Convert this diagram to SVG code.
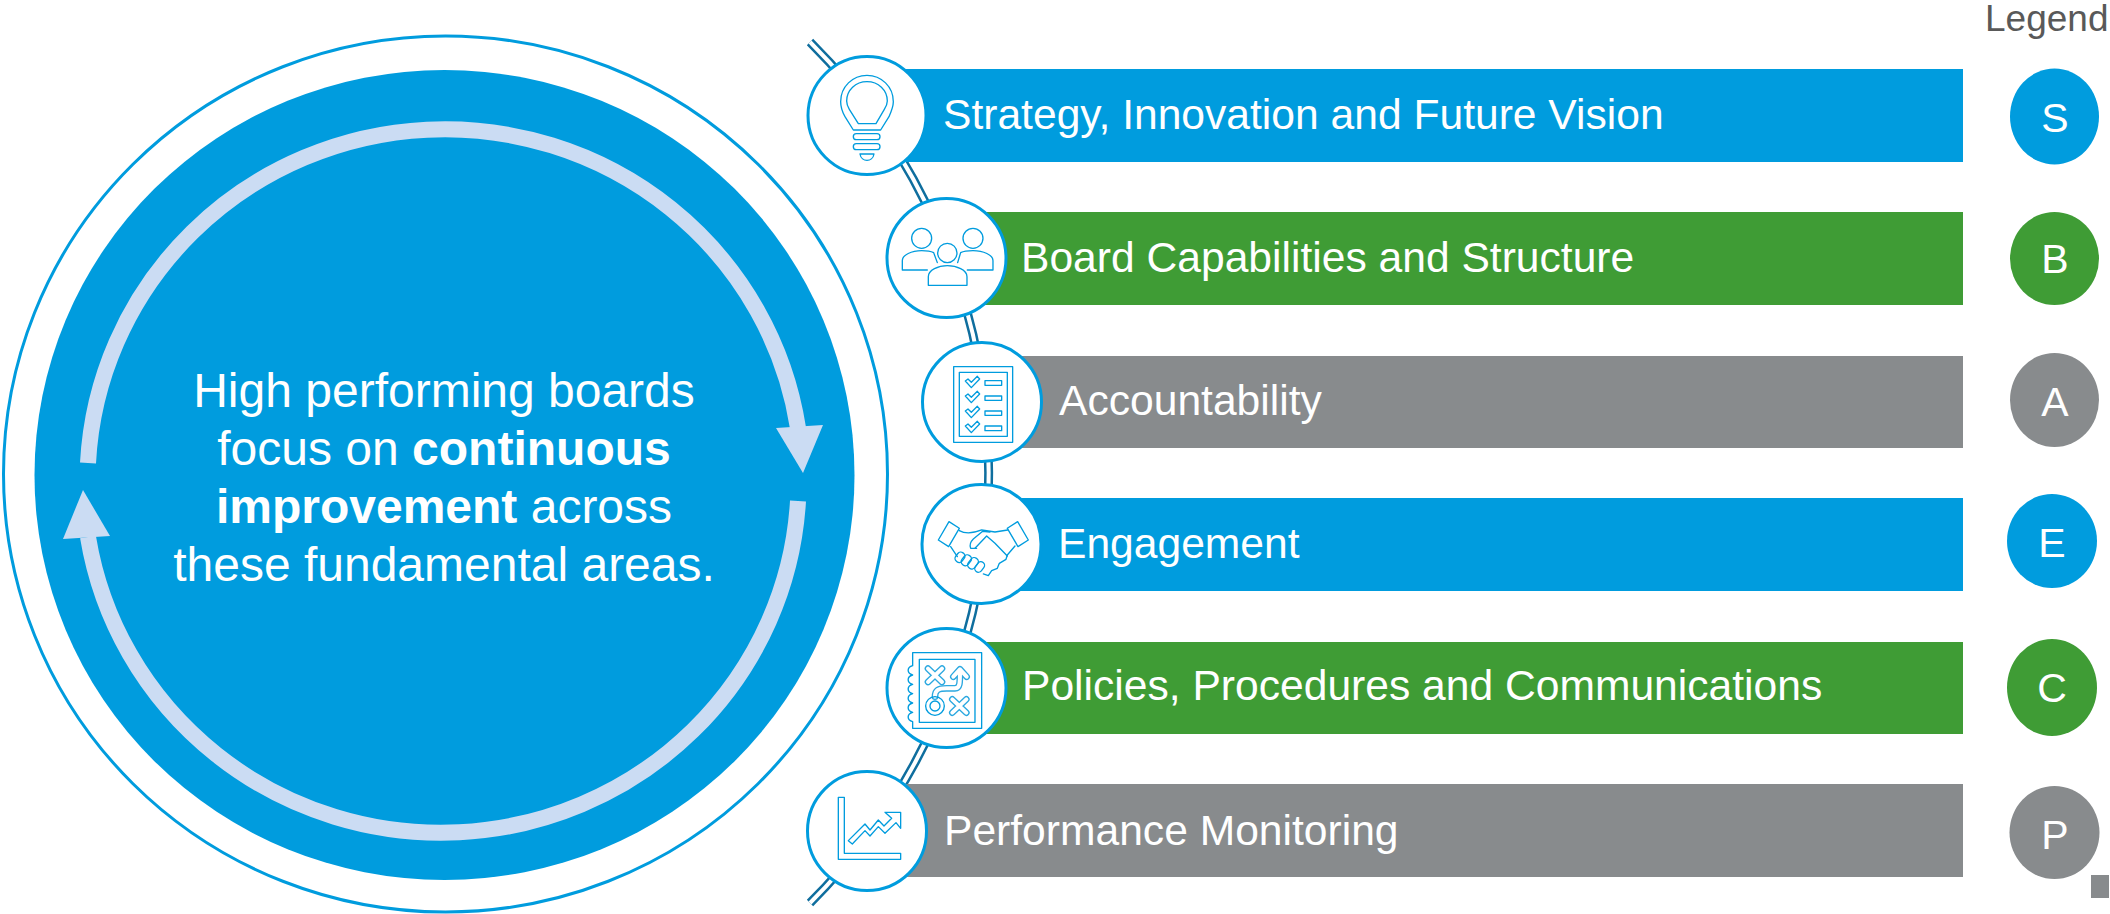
<svg xmlns="http://www.w3.org/2000/svg" width="2110" height="914" viewBox="0 0 2110 914">
<style>
text{font-family:"Liberation Sans",Arial,sans-serif}
.lbl{font-size:42.6px;fill:#fff}
.hero{font-size:48px;fill:#fff;text-anchor:middle}
.lg{font-size:41px;fill:#fff;text-anchor:middle}
.blue{fill:#009cde}.green{fill:#3f9c35}.gray{fill:#888b8d}
.disc{fill:#fff;stroke:#009cde;stroke-width:3}
.ic{fill:none;stroke:#009cde;stroke-width:4;stroke-linejoin:round;stroke-linecap:round}
.ico{fill:none;stroke:#2ba8e0;stroke-width:20;stroke-linejoin:round;stroke-linecap:round}
.ici{fill:none;stroke:#fff;stroke-width:12;stroke-linejoin:round;stroke-linecap:round}
.ring{fill:none;stroke:#cbdcf3;stroke-width:16}
</style>
<defs>
<path id="x1" d="M414 206L456 246M456 206L414 246"/>
<path id="x2" d="M487 298L529 338M529 298L487 338"/>
<path id="route" d="M435 290C435 270 445 265 470 265H495C510 265 510 250 510 212M490 230L510 208L530 230"/>
<path id="chk" d="M256 243L264 237L274 247L292 229L299 237L274 263Z"/>
</defs>
<g id="connectors">
<path d="M810 42A608 608 0 0 1 810 903" fill="none" stroke="#0f6e9e" stroke-width="9"/>
<path d="M810 42A608 608 0 0 1 810 903" fill="none" stroke="#fff" stroke-width="4"/>
</g>
<g id="hub">
<ellipse cx="445.500" cy="474" rx="442" ry="438" fill="#fff" stroke="#009cde" stroke-width="3"/>
<ellipse cx="444.500" cy="475" rx="410" ry="405" class="blue"/>
<path class="ring" d="M88 463A357.300 352 0 0 1 798 428"/>
<path d="M776 428L823 425L803 473Z" fill="#cbdcf3"/>
<path class="ring" d="M798 501A357.600 352 0 0 1 88 537"/>
<path d="M63 539L110 536L83 490Z" fill="#cbdcf3"/>
<text class="hero" x="444" y="407">High performing boards</text>
<text class="hero" x="444" y="465">focus on <tspan font-weight="700">continuous</tspan></text>
<text class="hero" x="444" y="523"><tspan font-weight="700">improvement</tspan> across</text>
<text class="hero" x="444" y="581">these fundamental areas.</text>
</g>
<g id="n-strategy">
<rect class="blue" x="866" y="69" width="1097" height="93"/>
<circle class="disc" cx="867" cy="115.500" r="59"/>
<g class="ic" transform="translate(790 20) scale(.3333)">
<path d="M190 330L165 290C155 272 152 258 152 245C152 200 188 166 231 166C274 166 310 200 310 245C310 258 305 272 297 290L272 330Z"/>
<path d="M205 311L178 268C172 258 170 252 170 243C170 210 197 185 231 185C265 185 292 210 292 243C292 252 288 260 283 268L258 311Z"/>
<rect x="190" y="341" width="80" height="18" rx="9"/>
<rect x="190" y="371" width="80" height="18" rx="9"/>
<path d="M210 402H252C250 415 240 421 231 421C222 421 212 415 210 402Z"/>
</g>
<text class="lbl" x="943" y="129">Strategy, Innovation and Future Vision</text>
</g>
<g id="n-board">
<rect class="green" x="946" y="212" width="1017" height="93"/>
<circle class="disc" cx="946.500" cy="258" r="59.500"/>
<g class="ic" transform="translate(790 20) scale(.3333)">
<circle cx="395" cy="655" r="30"/>
<circle cx="549" cy="655" r="30"/>
<circle cx="472" cy="699" r="29"/>
<path d="M412 750H337V722C337 705 365 692 395 692C412 692 425 695 431 698L442 728"/>
<path d="M532 750H609V722C609 705 580 692 549 692C532 692 518 695 512 698L503 728"/>
<path d="M415 796V770C415 750 445 737 472 737C500 737 531 750 531 770V796Z"/>
</g>
<text class="lbl" x="1021" y="272">Board Capabilities and Structure</text>
</g>
<g id="n-accountability">
<rect class="gray" x="982" y="356" width="981" height="92"/>
<circle class="disc" cx="982" cy="402" r="59.500"/>
<g class="ic" transform="translate(880 300) scale(.3333)">
<rect x="221" y="200" width="177" height="227"/>
<rect x="238" y="217" width="144" height="192"/>
<rect x="315" y="242" width="50" height="14"/>
<rect x="315" y="288" width="50" height="13"/>
<rect x="315" y="333" width="50" height="13"/>
<rect x="315" y="378" width="50" height="14"/>
<use href="#chk"/>
<use href="#chk" y="45"/>
<use href="#chk" y="90"/>
<use href="#chk" y="135"/>
</g>
<text class="lbl" x="1059" y="415">Accountability</text>
</g>
<g id="n-engagement">
<rect class="blue" x="982" y="498" width="981" height="93"/>
<circle class="disc" cx="981.500" cy="544" r="59.500"/>
<g class="ic" transform="translate(880 300) scale(.3333)">
<path d="M175 720L207 665L238 685L206 740Z"/>
<path d="M382 685L413 665L445 720L414 740Z"/>
<path d="M238 692C255 702 280 700 305 690L345 696L383 690"/>
<path d="M212 740L232 770"/>
<path d="M405 738L382 765L378 778L358 790L352 805L335 812L325 827L310 822"/>
<path d="M290 745L272 745C268 735 272 725 280 717L308 694L330 696"/>
<path d="M285 745L320 708L345 730L382 768"/>
<rect x="228" y="756" width="24" height="32" rx="11" transform="rotate(38 240 772)"/>
<rect x="247" y="764" width="24" height="34" rx="11" transform="rotate(38 259 781)"/>
<rect x="267" y="772" width="24" height="36" rx="11" transform="rotate(38 279 790)"/>
<rect x="288" y="784" width="22" height="34" rx="11" transform="rotate(38 299 801)"/>
</g>
<text class="lbl" x="1058" y="558">Engagement</text>
</g>
<g id="n-policies">
<rect class="green" x="946" y="642" width="1017" height="92"/>
<circle class="disc" cx="946.500" cy="688" r="59.500"/>
<g transform="translate(790 600) scale(.3333)">
<path class="ic" d="M368 178V158H575V385H368V365C350 360 350 342 368 337C350 332 350 314 368 309C350 304 350 286 368 281C350 276 350 258 368 253C350 248 350 230 368 225C350 220 350 202 368 197Z"/>
<rect class="ic" x="388" y="178" width="167" height="189"/>
<use href="#x1" class="ico"/><use href="#x2" class="ico"/><use href="#route" class="ico"/>
<use href="#x1" class="ici"/><use href="#x2" class="ici"/><use href="#route" class="ici"/>
<circle class="ic" cx="435" cy="318" r="28"/>
<circle class="ic" cx="435" cy="318" r="15"/>
</g>
<text class="lbl" x="1022" y="700">Policies, Procedures and Communications</text>
</g>
<g id="n-performance">
<rect class="gray" x="867" y="784" width="1096" height="93"/>
<circle class="disc" cx="867" cy="831" r="59.500"/>
<g class="ic" transform="translate(790 600) scale(.3333)">
<path d="M145 592H163V760H332V778H145Z"/>
<path d="M175 722L225 672L240 690L265 660L282 678L305 655L285 637H332V685L318 668L285 700L265 680L240 708L225 692L187 732Z"/>
</g>
<text class="lbl" x="944" y="845">Performance Monitoring</text>
</g>
<g id="legend">
<text x="1985" y="31" font-size="37" fill="#595959">Legend</text>
<ellipse class="blue" cx="2054.500" cy="116.500" rx="44.500" ry="48"/>
<text class="lg" x="2055" y="132">S</text>
<ellipse class="green" cx="2054.500" cy="258.500" rx="44.500" ry="46.500"/>
<text class="lg" x="2055" y="273">B</text>
<ellipse class="gray" cx="2054.500" cy="400" rx="44.500" ry="47"/>
<text class="lg" x="2055" y="416">A</text>
<ellipse class="blue" cx="2052" cy="541" rx="45" ry="47"/>
<text class="lg" x="2052" y="557">E</text>
<ellipse class="green" cx="2052" cy="687.500" rx="45" ry="48.500"/>
<text class="lg" x="2052" y="702">C</text>
<ellipse class="gray" cx="2054.500" cy="832.500" rx="45" ry="46.500"/>
<text class="lg" x="2055" y="849">P</text>
<rect class="gray" x="2091" y="875" width="18" height="23"/>
</g>
</svg>
